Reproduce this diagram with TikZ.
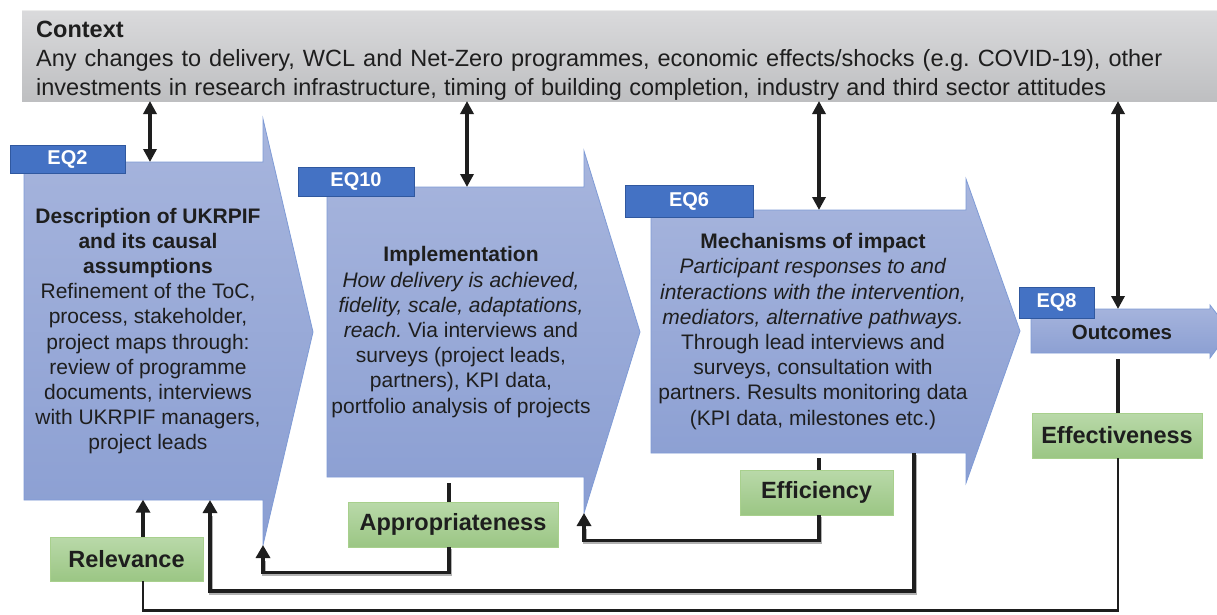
\documentclass[tikz,border=0pt]{standalone}
\usepackage{fontspec}
\setmainfont{Liberation Sans}
\usetikzlibrary{arrows.meta,calc}
\definecolor{ink}{HTML}{1E1E1E}
\definecolor{ctxtop}{HTML}{DADADC}
\definecolor{ctxbot}{HTML}{BEBFC1}
\definecolor{chtop}{HTML}{A7B5DD}
\definecolor{chbot}{HTML}{8A9ED2}
\definecolor{chline}{HTML}{7F9BD6}
\definecolor{eqblue}{HTML}{4472C4}
\definecolor{eqline}{HTML}{30589F}
\definecolor{grtop}{HTML}{B9D9A9}
\definecolor{grbot}{HTML}{9BC684}
\definecolor{grline}{HTML}{A8D08D}
\tikzset{
  chbody/.style={inner sep=0pt, outer sep=0pt, anchor=north west},
  chfill/.style={top color=chtop, bottom color=chbot},
  chedge/.style={draw=chline, line width=0.8pt, line join=miter},
  chtext/.style={align=center, text=ink, font=\fontsize{21}{25.2}\selectfont, inner sep=0pt},
  eqtab/.style={fill=eqblue, draw=eqline, line width=0.8pt, text=white,
    font=\bfseries\fontsize{20}{22}\selectfont, inner sep=0pt},
  crit/.style={top color=grtop, bottom color=grbot, draw=grline, line width=0.8pt,
    font=\bfseries\fontsize{23.5}{26}\selectfont, text=ink, inner sep=0pt},
  conn/.style={line width=3.8pt, draw=ink},
  thinconn/.style={line width=2.8pt, draw=ink},
  shadowline/.style={line width=3.8pt, draw=black!30, transform canvas={shift={(1.2pt,-1.8pt)}}},
  arrowend/.style={-{Triangle[width=14pt,length=13pt]}},
  dbl/.style={{Triangle[width=13pt,length=13pt]}-{Triangle[width=13pt,length=13pt]}},
  ctxtext/.style={anchor=base west, inner sep=0pt, text=ink, font=\fontsize{23.5}{28}\selectfont},
}
% chevron: #1 body node, #2 head top, #3 tip, #4 head bottom
\newcommand\chevronshape[4]{%
  \shade[chfill] (#1.north west) -- (#1.north east) -- (#2) -- (#3) -- (#4)
    -- (#1.south east) -- (#1.south west) -- cycle;
  \draw[chedge] (#1.north west) -- (#1.north east) -- (#2) -- (#3) -- (#4)
    -- (#1.south east) -- (#1.south west) -- cycle;
}
\frenchspacing
\begin{document}
\begin{tikzpicture}[x=1pt,y=-1pt]
\clip (0,0) rectangle (1217,614);
\fill[white] (0,0) rectangle (1217,614);

% context banner
\node[chbody, minimum width=1200pt, minimum height=91pt, top color=ctxtop, bottom color=ctxbot]
  (ctx) at (22,10) {};
\draw[white!85!gray, line width=0.8pt] (ctx.north west) -- (ctx.north east);
\node[ctxtext, font=\bfseries\fontsize{23.5}{28}\selectfont] (ctxhead) at (36,37.5) {Context};
\node[ctxtext] (ctxl1) at (36,66.5) {\makebox[1126pt][s]{Any changes to delivery, WCL and Net-Zero programmes, economic effects/shocks (e.g. COVID-19), other}};
\node[ctxtext] (ctxl2) at (36,95) {\makebox[1070pt][s]{investments in research infrastructure, timing of building completion, industry and third sector attitudes}};

% chevron bodies
\node[chbody, minimum width=239pt, minimum height=338pt] (b1) at (24,162) {};
\node[chbody, minimum width=257pt, minimum height=290pt] (b2) at (327,187) {};
\node[chbody, minimum width=315pt, minimum height=243pt] (b3) at (651,210) {};
\node[chbody, minimum width=179pt, minimum height=44pt] (b4) at (1031,309) {};
\coordinate (h1t) at (263,119);  \coordinate (h1p) at (313,332);  \coordinate (h1b) at (263,545);
\coordinate (h2t) at (584,151);  \coordinate (h2p) at (640,332);  \coordinate (h2b) at (584,513);
\coordinate (h3t) at (966,179);  \coordinate (h3p) at (1020,331); \coordinate (h3b) at (966,483);
\coordinate (h4t) at (1210,305); \coordinate (h4p) at (1230,331); \coordinate (h4b) at (1210,358);
\chevronshape{b1}{h1t}{h1p}{h1b}
\chevronshape{b2}{h2t}{h2p}{h2b}
\chevronshape{b3}{h3t}{h3p}{h3b}
\chevronshape{b4}{h4t}{h4p}{h4b}

% stage texts
\node[chtext] (t1) at (148,331) {\textbf{Description of UKRPIF}\\\textbf{and its causal}\\\textbf{assumptions}\\
  Refinement of the ToC,\\process, stakeholder,\\project maps through:\\review of programme\\
  documents, interviews\\with UKRPIF managers,\\project leads};
\node[chtext] (t2) at (461,332) {\textbf{Implementation}\\\textit{How delivery is achieved,}\\
  \textit{fidelity, scale, adaptations,}\\\textit{reach.} Via interviews and\\surveys (project leads,\\
  partners), KPI data,\\portfolio analysis of projects};
\node[chtext] (t3) at (813,331.5) {\textbf{Mechanisms of impact}\\\textit{Participant responses to and}\\
  \textit{interactions with the intervention,}\\\textit{mediators, alternative pathways.}\\
  Through lead interviews and\\surveys, consultation with\\partners. Results monitoring data\\
  (KPI data, milestones etc.)};
\node[chtext, font=\bfseries\fontsize{20.5}{24}\selectfont] (t4) at (1122,332) {Outcomes};

% evaluation question tabs
\node[eqtab, minimum width=115pt, minimum height=28pt] (eq2) at (67.5,159) {EQ2};
\node[eqtab, minimum width=116pt, minimum height=29pt] (eq10) at (356,181.5) {EQ10};
\node[eqtab, minimum width=128pt, minimum height=32pt] (eq6) at (689,201) {EQ6};
\node[eqtab, minimum width=75pt, minimum height=31pt] (eq8) at (1056.5,302.5) {EQ8};

% links to the context banner
\coordinate (k1) at (150,162);
\coordinate (k2) at (467,187);
\coordinate (k3) at (819,210);
\coordinate (k4) at (1118,309);
\draw[conn, dbl] (k1 |- ctx.south) -- (k1);
\draw[conn, dbl] (k2 |- ctx.south) -- (k2);
\draw[conn, dbl] (k3 |- ctx.south) -- (k3);
\draw[conn, dbl] (k4 |- ctx.south) -- (k4);

% criterion boxes
\node[crit, minimum width=153pt, minimum height=44pt] (rel) at (126.5,559) {Relevance};
\node[crit, minimum width=210pt, minimum height=45pt] (app) at (453,524.5) {Appropriateness};
\node[crit, minimum width=153pt, minimum height=45pt] (eff) at (816.5,492.5) {Efficiency};
\node[crit, minimum width=170pt, minimum height=45pt] (effv) at (1117,435.5) {Effectiveness};

% feedback loops
\draw[shadowline] ([xshift=-4pt]app.south) -- ++(0,25) -| ([yshift=-14pt]h1b);
\draw[shadowline] ([xshift=2.5pt]eff.south) -- ++(0,25) -| ([yshift=-14pt]h2b);
\draw[shadowline] ($(b3.south east)+(-52,0)$) -- ++(0,138) -| ($(b1.south west)+(186,14)$);

\draw[conn] ([xshift=-4pt]app.north) -- ++(0,-19);
\draw[conn, arrowend] ([xshift=-4pt]app.south) -- ++(0,25) -| (h1b);
\draw[conn] ([xshift=2.5pt]eff.north) -- ++(0,-12);
\draw[conn, arrowend] ([xshift=2.5pt]eff.south) -- ++(0,25) -| (h2b);
\draw[conn, arrowend] ($(b3.south east)+(-52,0)$) -- ++(0,138) -| ($(b1.south west)+(186,0)$);
\draw[conn] ([xshift=1pt]effv.north) -- ++(0,-54);
\draw[thinconn] ([xshift=1pt]effv.south) -- ++(0,152) -| ([xshift=16.5pt]rel.south);
\draw[conn, arrowend] ([xshift=16.5pt]rel.north) -- ++(0,-37);
\end{tikzpicture}
\end{document}
